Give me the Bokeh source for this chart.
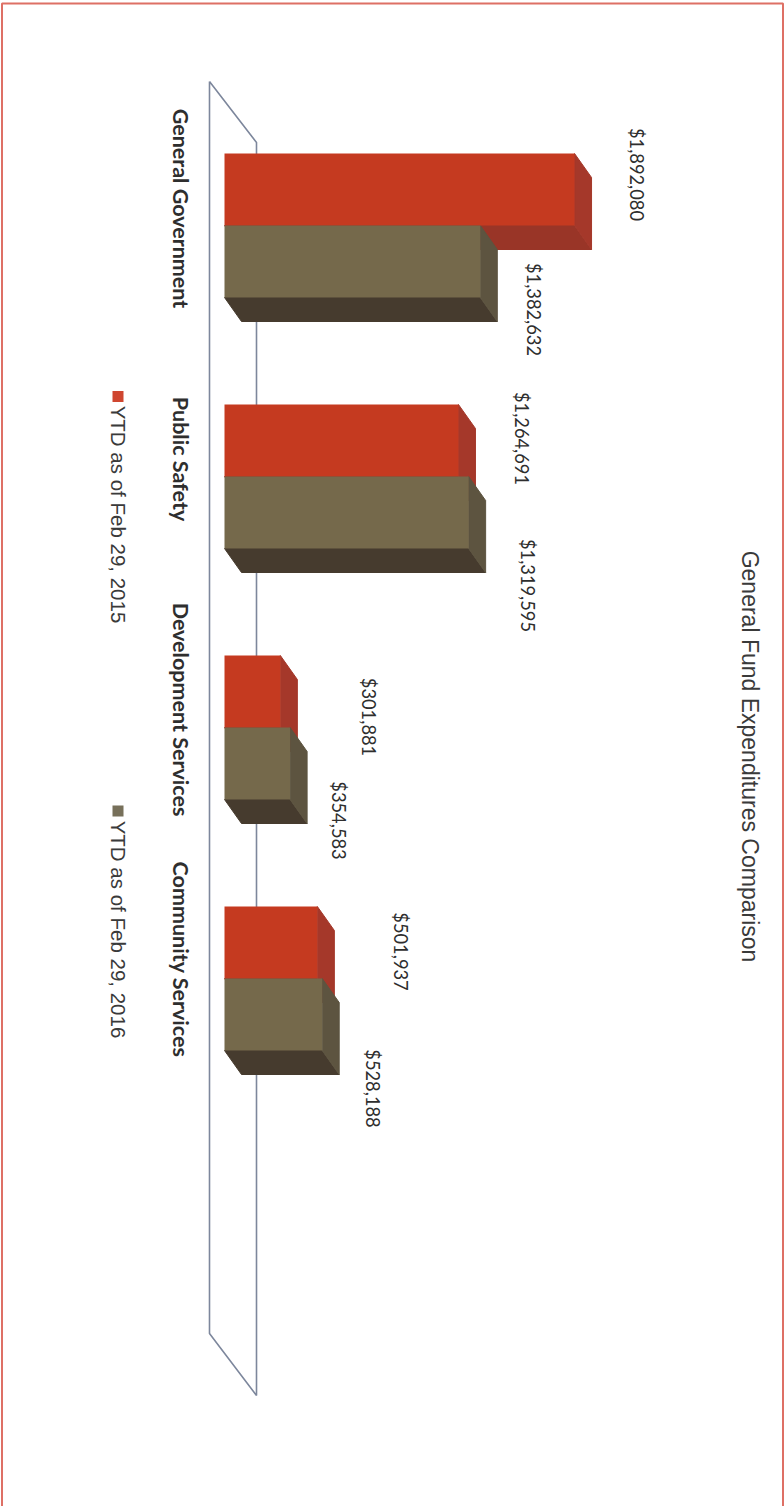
from math import pi
from bokeh.plotting import figure
from bokeh.models import Range1d
from bokeh.core.properties import value
from bokeh.embed import file_html
from bokeh.resources import INLINE

categories = ["General Government", "Public Safety", "Development Services", "Community Services"]
ytd_2015 = [1892080, 1264691, 301881, 501937]
ytd_2016 = [1382632, 1319595, 354583, 528188]
series_names = ["YTD as of Feb 29, 2015", "YTD as of Feb 29, 2016"]
chart_title = "General Fund Expenditures Comparison"

W, H = 784, 1506
PX_PER_DOLLAR = 0.000185
PX_PER_CATEGORY = 251.0
BASE_PX, FIRST_CENTER_PX = 224.0, 225.0

def X(px):
    return (px - BASE_PX) / PX_PER_DOLLAR

def Y(py):
    return (py - FIRST_CENTER_PX) / PX_PER_CATEGORY

BAR_H = 72 / PX_PER_CATEGORY
DX, DY = 17 / PX_PER_DOLLAR, 24 / PX_PER_CATEGORY

RED, RED_SIDE, RED_BOTTOM = "#c53a20", "#a5382a", "#993527"
OLIVE, OLIVE_SIDE, OLIVE_BOTTOM = "#75694b", "#5d5440", "#463b2e"
FLOOR = "#7d879c"
FRAME = "#d8574a"
INK = "#2e2e2e"
VALUE_FONT = value("Lato")

p = figure(width=W, height=H, output_backend="svg", toolbar_location=None,
           x_range=Range1d(X(0), X(W)), y_range=Range1d(Y(H), Y(0)),
           min_border=0)
p.axis.visible = False
p.grid.visible = False
p.outline_line_color = None
p.background_fill_color = "white"

p.line([X(1.5), X(1.5), X(782.5), X(782.5)], [Y(H), Y(3), Y(3), Y(H)],
       line_color=FRAME, line_width=2, line_alpha=0.85)

p.line([X(209), X(209), X(256), X(256), X(209)],
       [Y(81), Y(1333), Y(1395), Y(142), Y(81)], line_color=FLOOR, line_width=1.6)

def faces(vals, off):
    tops = [i + off - BAR_H / 2 for i in range(len(vals))]
    side_x = [[v, v + DX, v + DX, v] for v in vals]
    side_y = [[t, t + DY, t + BAR_H + DY, t + BAR_H] for t in tops]
    bot_x = [[0, v, v + DX, DX] for v in vals]
    bot_y = [[t + BAR_H, t + BAR_H, t + BAR_H + DY, t + BAR_H + DY] for t in tops]
    return side_x, side_y, bot_x, bot_y

ys = list(range(len(categories)))
for vals, off, col, side, bot in [(ytd_2015, -BAR_H / 2, RED, RED_SIDE, RED_BOTTOM),
                                  (ytd_2016, BAR_H / 2, OLIVE, OLIVE_SIDE, OLIVE_BOTTOM)]:
    sx, sy, bx, by = faces(vals, off)
    p.patches(bx, by, fill_color=bot, line_color=bot)
    p.patches(sx, sy, fill_color=side, line_color=side)
for vals, off, col in [(ytd_2015, -BAR_H / 2, RED), (ytd_2016, BAR_H / 2, OLIVE)]:
    p.hbar(y=[y + off for y in ys], right=vals, left=0, height=BAR_H, fill_color=col, line_color=None)

label_dx_2015 = [62, 64, 89, 84]
label_dy_2015 = [-15, -2, 25.5, 9]
label_dx_2016 = [54, 59, 49, 51]
label_dy_2016 = [48, 73, 57, 74]
for vals, off, dxs, dys in [(ytd_2015, -BAR_H / 2, label_dx_2015, label_dy_2015),
                            (ytd_2016, BAR_H / 2, label_dx_2016, label_dy_2016)]:
    p.text(x=vals, y=[y + off for y in ys], text=[f"${v:,}" for v in vals],
           x_offset=dxs, y_offset=dys, angle=-pi / 2, text_align="center", text_baseline="middle",
           text_font=VALUE_FONT, text_font_size="18.3px", text_color=INK)

category_label_y = [Y(208), Y(458.5), Y(709), Y(959)]
p.text(x=[X(180)] * 4, y=category_label_y, text=categories,
       angle=-pi / 2, text_align="center", text_baseline="middle",
       text_font=VALUE_FONT, text_font_style="bold", text_font_size="21.5px", text_color=INK)

p.text(x=[X(749)], y=[Y(756)], text=[chart_title], angle=-pi / 2, text_align="center", text_baseline="middle",
       text_font=value("Liberation Sans"), text_font_size="23px", text_color="#3a3a3a")

p.scatter(x=[X(117.5), X(117.5)], y=[Y(396), Y(810.5)], marker="square", size=11,
          fill_color=["#cf4630", "#77705a"], line_color=None)
p.text(x=[X(118)] * 2, y=[Y(514), Y(929)], text=series_names, angle=-pi / 2,
       text_align="center", text_baseline="middle",
       text_font=value("Liberation Sans"), text_font_size="20.5px", text_color="#3a3a3a")

open("out.html", "w").write(file_html(p, INLINE))
